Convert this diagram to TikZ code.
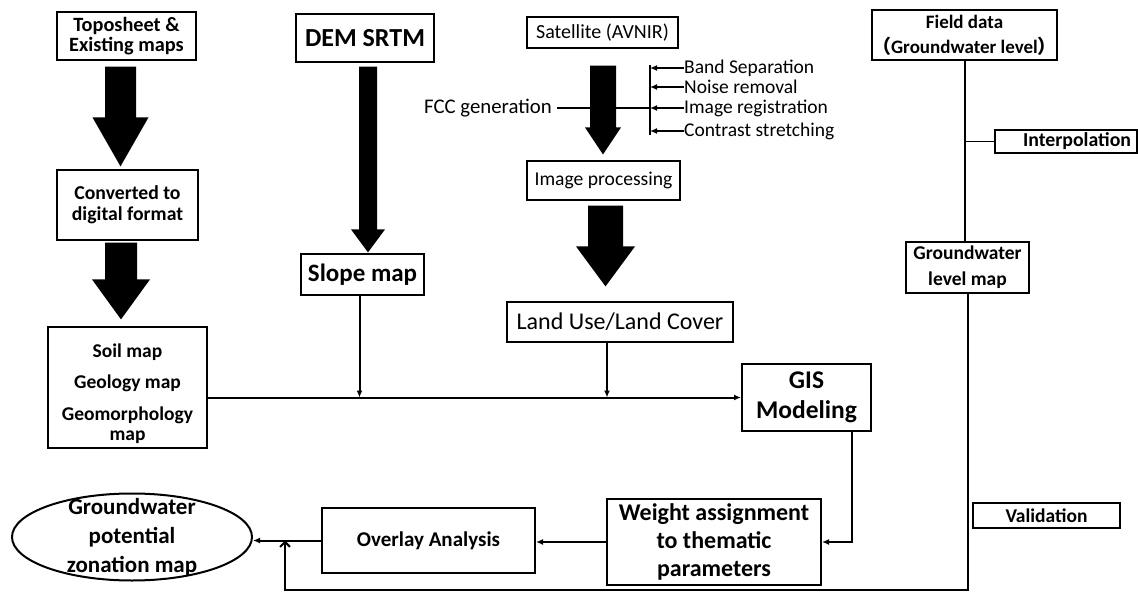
\documentclass[tikz,border=0pt]{standalone}
\usepackage{fontspec}
\setmainfont{Carlito}
\newfontfamily\cjk{Noto Sans CJK SC}
\usetikzlibrary{arrows.meta,calc,shapes.geometric}
\newcommand{\txtsize}[2]{\fontsize{#1}{#2}\selectfont}
\newcommand{\fatarrow}[8]{%
  \fill let \p1=(#2.south), \p2=(#3.north) in
    ({(#1-#7)*1pt},{\y1-#4pt}) -- ({(#1+#7)*1pt},{\y1-#4pt})
    -- ({(#1+#7)*1pt},{\y2+#5pt+#6pt}) -- ({(#1+#8)*1pt},{\y2+#5pt+#6pt})
    -- ({#1pt},{\y2+#5pt}) -- ({(#1-#8)*1pt},{\y2+#5pt+#6pt})
    -- ({(#1-#7)*1pt},{\y2+#5pt+#6pt}) -- cycle;}
\tikzset{%
        x = 1pt,
        y = -1pt,
        >={Latex[length=7pt,width=6pt]}
}
\tikzstyle{box}=[
    draw = black,
    line width = 1.2pt,
    align = center,
    inner sep = 0pt
]
\tikzstyle{heavybox}=[
    box,
    line width = 2pt
]
\tikzstyle{note}=[
    inner sep = 0pt,
    font = \txtsize{19.5}{20}
]
\tikzstyle{every edge}=[
    draw = black,
    line width = 2pt
]

\begin{document}
\begin{tikzpicture}
        \useasboundingbox (0,0) rectangle (1138,596);
        \node[box, minimum width=139pt, minimum height=48pt, font=\txtsize{20.3}{20}\bfseries] (topo) at (126.5,36) {Toposheet \&\\Existing maps};
        \node[box, minimum width=141pt, minimum height=70pt, font=\txtsize{19.7}{21}\bfseries] (conv) at (127.5,205) {Converted to\\digital format};
        \node[box, minimum width=159pt, minimum height=121pt,
              label={[yshift=-6pt, font=\txtsize{19.5}{20}\bfseries, align=center]center:Soil map\\[11.5pt]Geology map\\[11.5pt]Geomorphology\\map}] (soil) at (127.5,387.5) {};
        \node[box, minimum width=138pt, minimum height=48pt, font=\txtsize{26}{26}\bfseries] (dem) at (365,38) {DEM SRTM};
        \node[box, minimum width=123pt, minimum height=41pt, font=\txtsize{25}{25}\bfseries] (slope) at (362.5,274.5) {Slope map};
        \node[box, minimum width=151pt, minimum height=31pt, font=\txtsize{20}{20}] (sat) at (602.5,32.5) {Satellite (AVNIR)};
        \node[box, minimum width=153pt, minimum height=39pt, font=\txtsize{19.6}{20}] (imgp) at (603.5,180.5) {Image processing};
        \node[box, minimum width=226pt, minimum height=40pt, font=\txtsize{24}{24}] (lulc) at (620,322) {Land Use/Land Cover};
        \node[heavybox, minimum width=129pt, minimum height=67pt, font=\txtsize{25.5}{30}\bfseries] (gis) at (806.5,397.5) {GIS\\Modeling};
        \node[heavybox, minimum width=214pt, minimum height=86pt, font=\txtsize{24}{28}\bfseries] (weight) at (714,542) {Weight assignment\\to thematic\\parameters};
        \node[heavybox, minimum width=213pt, minimum height=65pt, font=\txtsize{21}{21}\bfseries] (overlay) at (428.5,540.5) {Overlay Analysis};
        \node[ellipse, draw, line width=2pt, minimum width=240pt, minimum height=87pt, inner sep=0pt,
              label={[font=\txtsize{23}{29}\bfseries, align=center]center:Groundwater\\potential\\zonation map}] (gwp) at (132,537) {};
        \node[box, minimum width=185pt, minimum height=50pt, font=\txtsize{19}{25}\bfseries] (field) at (964.5,35) {Field data\\{\cjk （}Groundwater level{\cjk ）}};
        \node[box, minimum width=142pt, minimum height=23pt, font=\txtsize{19.8}{20}\bfseries,
              text width=130pt, align=right] (interp) at (1066,141.5) {Interpolation};
        \node[box, minimum width=123pt, minimum height=51pt, font=\txtsize{19.5}{26}\bfseries] (gwl) at (967.5,267.5) {Groundwater\\level map};
        \node[box, minimum width=147pt, minimum height=25pt, font=\txtsize{19.5}{20}\bfseries] (valid) at (1046.5,515.5) {Validation};

        \node[note, font=\txtsize{20.8}{21}, anchor=east, inner xsep=5pt] (fcc) at (557,108) {FCC generation};
        \node[note, anchor=west] (band) at (684,68) {Band Separation};
        \node[note, anchor=west] (noise) at (684,87) {Noise removal};
        \node[note, anchor=west] (reg) at (684,108) {Image registration};
        \node[note, anchor=west] (contrast) at (684,131) {Contrast stretching};
        \coordinate (brktop) at (650,65);
        \coordinate (brkbot) at (650,135);
        \coordinate (fb) at (285,590);

        \path
        (brktop) edge (brkbot)
        (fcc.east) edge (fcc.east -| brktop)
        (band.west) edge[->, line width=1.5pt] (band.west -| brktop)
        (noise.west) edge[->, line width=1.5pt] (noise.west -| brktop)
        (reg.west) edge[->, line width=1.5pt] (reg.west -| brktop)
        (contrast.west) edge[->, line width=1.5pt] (contrast.west -| brktop)
        (soil.east |- gis.west) edge[->] (gis.west)
        ([xshift=-3pt]slope.south) edge[->] ([xshift=-3pt]slope.south |- gis.west)
        ([xshift=-13pt]lulc.south) edge[->] ([xshift=-13pt]lulc.south |- gis.west)
        (weight.west) edge[->] (weight.west -| overlay.east)
        (overlay.west) edge[->] (overlay.west -| gwp.east)
        (field.south) edge (field.south |- gwl.north)
        (interp.west) edge[line width=1.5pt] (interp.west -| field.south)
        ;
        \draw[line width=2pt, ->] ([xshift=45.5pt]gis.south) |- (weight.east);
        \draw[line width=2pt, -{Straight Barb[length=5pt,width=10pt]}] (gwl.south) |- (fb) -- (fb |- overlay.west);

        \fatarrow{120.5}{topo}{conv}{6}{3}{49}{15.5}{28}
        \fatarrow{121}{conv}{soil}{2}{7}{40}{16}{29}
        \fatarrow{368}{dem}{slope}{4}{1}{23}{9}{17}
        \fatarrow{603}{sat}{imgp}{17}{6}{27}{13}{18}
        \fatarrow{605.5}{imgp}{lulc}{5}{15}{40}{17.5}{29.5}
\end{tikzpicture}
\end{document}
